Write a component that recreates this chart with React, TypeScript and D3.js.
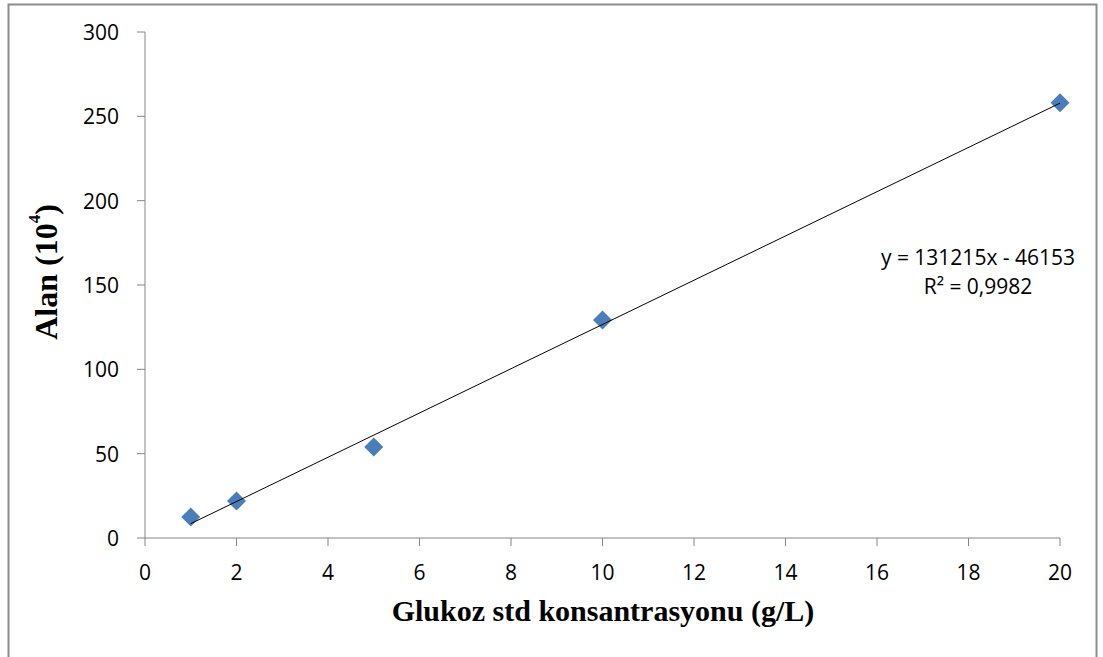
import * as d3 from "d3";

const concentrations = [1, 2, 5, 10, 20];
const areas = [12.4, 21.9, 54, 129.2, 258];
const xTicks = [0, 2, 4, 6, 8, 10, 12, 14, 16, 18, 20];
const yTicks = [0, 50, 100, 150, 200, 250, 300];
const slope = 13.1215;
const intercept = -4.6153;
const equationLines = ["y = 131215x - 46153", "R² = 0,9982"];

const W = 1103;
const H = 657;
const left = 145;
const right = 1060;
const top = 32;
const bottom = 538;

export default function App() {
  const x = d3.scaleLinear().domain([0, 20]).range([left, right]);
  const y = d3.scaleLinear().domain([0, 300]).range([bottom, top]);

  const trend = d3
    .line<number>()
    .x((d) => x(d))
    .y((d) => y(slope * d + intercept))([1, 20])!;

  const diamond = d3.symbol().type(d3.symbolDiamond2).size(230)()!;

  const tickFont = "'Open Sans', 'Noto Sans', sans-serif";
  const titleFont = "'Liberation Serif', 'Times New Roman', serif";

  return (
    <svg
      width={W}
      height={H}
      style={{ position: "absolute", left: 0, top: 0 }}
    >
      <rect x={0} y={0} width={W} height={H} fill="#fff" />
      <rect
        x={8.5}
        y={4.5}
        width={1088}
        height={H + 10}
        fill="none"
        stroke="#8c8c8c"
        strokeWidth={2}
      />

      {/* axes */}
      <line x1={left} x2={left} y1={top} y2={bottom} stroke="#868686" />
      <line x1={left} x2={right} y1={bottom} y2={bottom} stroke="#868686" />
      {yTicks.map((t) => (
        <g key={"y" + t}>
          <line
            x1={left - 8}
            x2={left}
            y1={y(t)}
            y2={y(t)}
            stroke="#868686"
          />
          <text
            x={left - 26}
            y={y(t)}
            textAnchor="end"
            dominantBaseline="central"
            fontFamily={tickFont}
            fontSize={21}
            fill="#000"
          >
            {t}
          </text>
        </g>
      ))}
      {xTicks.map((t) => (
        <g key={"x" + t}>
          <line
            x1={x(t)}
            x2={x(t)}
            y1={bottom}
            y2={bottom + 8}
            stroke="#868686"
          />
          <text
            x={x(t)}
            y={bottom + 34}
            textAnchor="middle"
            dominantBaseline="central"
            fontFamily={tickFont}
            fontSize={21}
            fill="#000"
          >
            {t}
          </text>
        </g>
      ))}

      {/* points */}
      {concentrations.map((c, i) => (
        <path
          key={c}
          d={diamond}
          transform={`translate(${x(c)},${y(areas[i])})`}
          fill="#4a7ebb"
        />
      ))}

      {/* trendline */}
      <path d={trend} fill="none" stroke="#000" strokeWidth={1} />

      {/* equation */}
      {equationLines.map((l, i) => (
        <text
          key={l}
          x={978}
          y={257 + i * 29}
          textAnchor="middle"
          dominantBaseline="central"
          fontFamily={tickFont}
          fontSize={21}
          fill="#000"
        >
          {l}
        </text>
      ))}

      {/* titles */}
      <text
        x={603}
        y={610}
        textAnchor="middle"
        dominantBaseline="central"
        fontFamily={titleFont}
        fontWeight="bold"
        fontSize={30}
        fill="#000"
      >
        Glukoz std konsantrasyonu (g/L)
      </text>
      <text
        transform={`translate(46,272) rotate(-90)`}
        textAnchor="middle"
        dominantBaseline="central"
        fontFamily={titleFont}
        fontWeight="bold"
        fontSize={32}
        fill="#000"
      >
        Alan (10
        <tspan fontSize={17} dy={-12}>
          4
        </tspan>
        <tspan dy={12}>)</tspan>
      </text>
    </svg>
  );
}
